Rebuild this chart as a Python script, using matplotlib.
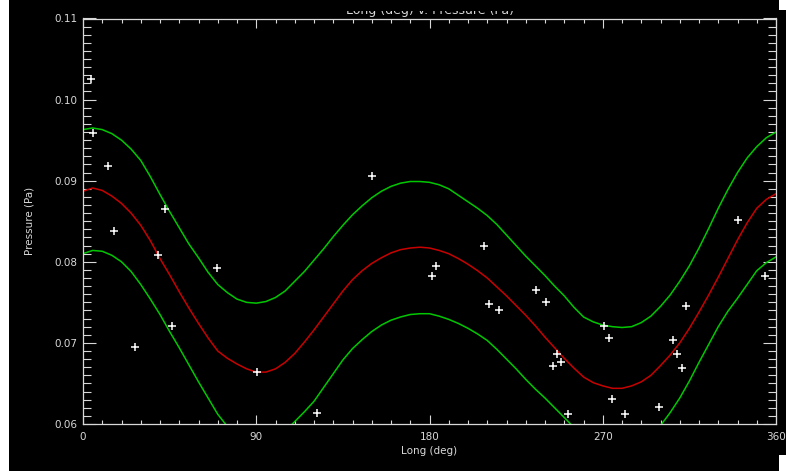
import matplotlib
matplotlib.use("Agg")
import matplotlib.pyplot as plt
from matplotlib.patches import Rectangle
from matplotlib.ticker import MultipleLocator

# ---------------- data ----------------
curve_long = list(range(0, 361, 5))
fit_mid = [0.0887, 0.0891, 0.0888, 0.0881, 0.0872, 0.0860, 0.0845, 0.0826, 0.0804,
           0.0784, 0.0763, 0.0743, 0.0724, 0.0706, 0.0690, 0.0681, 0.0674, 0.0668,
           0.0664, 0.0664, 0.0668, 0.0676, 0.0687, 0.0701, 0.0716, 0.0732, 0.0748,
           0.0764, 0.0778, 0.0789, 0.0798, 0.0805, 0.0811, 0.0815, 0.0817, 0.0818,
           0.0817, 0.0814, 0.0810, 0.0804, 0.0797, 0.0789, 0.0780, 0.0769, 0.0758,
           0.0746, 0.0734, 0.0721, 0.0707, 0.0694, 0.0681, 0.0669, 0.0658, 0.0651,
           0.0647, 0.0644, 0.0644, 0.0647, 0.0652, 0.0660, 0.0672, 0.0685, 0.0700,
           0.0718, 0.0738, 0.0759, 0.0781, 0.0804, 0.0827, 0.0848, 0.0866, 0.0877,
           0.0884]
fit_upper = [0.0963, 0.0965, 0.0963, 0.0958, 0.0950, 0.0939, 0.0925, 0.0905, 0.0883,
             0.0862, 0.0842, 0.0822, 0.0805, 0.0787, 0.0772, 0.0762, 0.0754, 0.0750,
             0.0749, 0.0751, 0.0756, 0.0764, 0.0776, 0.0788, 0.0802, 0.0816, 0.0831,
             0.0845, 0.0858, 0.0869, 0.0879, 0.0887, 0.0893, 0.0897, 0.0899, 0.0899,
             0.0898, 0.0895, 0.0890, 0.0882, 0.0874, 0.0866, 0.0857, 0.0846, 0.0833,
             0.0820, 0.0807, 0.0795, 0.0783, 0.0770, 0.0758, 0.0744, 0.0732, 0.0726,
             0.0722, 0.0720, 0.0719, 0.0720, 0.0725, 0.0733, 0.0745, 0.0759, 0.0776,
             0.0795, 0.0817, 0.0841, 0.0866, 0.0889, 0.0910, 0.0928, 0.0942, 0.0953,
             0.0960]
fit_lower = [0.0810, 0.0814, 0.0813, 0.0808, 0.0800, 0.0788, 0.0772, 0.0754, 0.0735,
             0.0714, 0.0694, 0.0673, 0.0652, 0.0632, 0.0612, 0.0597, 0.0582, 0.0575,
             0.0570, 0.0572, 0.0578, 0.0591, 0.0603, 0.0615, 0.0628, 0.0645, 0.0662,
             0.0679, 0.0693, 0.0704, 0.0714, 0.0722, 0.0728, 0.0732, 0.0735, 0.0736,
             0.0736, 0.0733, 0.0729, 0.0724, 0.0718, 0.0711, 0.0703, 0.0692, 0.0680,
             0.0668, 0.0655, 0.0643, 0.0632, 0.0620, 0.0608, 0.0596, 0.0583, 0.0575,
             0.0570, 0.0568, 0.0568, 0.0570, 0.0578, 0.0587, 0.0598, 0.0614, 0.0632,
             0.0653, 0.0676, 0.0698, 0.0720, 0.0739, 0.0755, 0.0772, 0.0789, 0.0799,
             0.0806]

obs_long = [4.0, 5.4, 13.2, 16.3, 27.0, 39.1, 42.6, 46.4, 69.4, 90.6, 121.4,
            150.0, 183.4, 181.5, 208.3, 210.9, 216.1, 235.3, 240.4, 246.1, 244.2,
            248.1, 252.1, 270.8, 273.1, 274.8, 281.6, 299.2, 306.3, 308.7, 311.3,
            313.2, 340.4, 354.3]
obs_pressure = [0.1025, 0.0959, 0.0918, 0.0838, 0.0695, 0.0808, 0.0865, 0.0721,
                0.0792, 0.0664, 0.0614, 0.0906, 0.0795, 0.0783, 0.0820, 0.0748,
                0.0741, 0.0765, 0.0750, 0.0686, 0.0672, 0.0676, 0.0612, 0.0721,
                0.0706, 0.0631, 0.0612, 0.0621, 0.0704, 0.0686, 0.0669, 0.0746,
                0.0852, 0.0782]

x_ticks = [0, 90, 180, 270, 360]
y_ticks = [0.06, 0.07, 0.08, 0.09, 0.10, 0.11]
y_tick_labels = ["0.06", "0.07", "0.08", "0.09", "0.10", "0.11"]

# ---------------- figure ----------------
W, H = 786, 471
fig = plt.figure(figsize=(W / 100, H / 100), dpi=100, facecolor="black")
ax = fig.add_axes([83 / W, 1 - 424 / H, (776 - 83) / W, (424 - 18.5) / H])
ax.set_facecolor("black")

fg = "#d8d8d8"
ax.plot(curve_long, fit_upper, color="#00c800", lw=1.1)
ax.plot(curve_long, fit_lower, color="#00c800", lw=1.1)
ax.plot(curve_long, fit_mid, color="#c80000", lw=1.1)
ax.plot(obs_long, obs_pressure, linestyle="none", marker="+", color="white",
        markersize=6, markeredgewidth=1.1)

ax.set_xlim(0, 360)
ax.set_ylim(0.06, 0.11)
ax.set_xticks(x_ticks)
ax.set_xticklabels([str(t) for t in x_ticks])
ax.set_yticks(y_ticks)
ax.set_yticklabels(y_tick_labels)
ax.xaxis.set_minor_locator(MultipleLocator(10))
ax.yaxis.set_minor_locator(MultipleLocator(0.001))

for s in ax.spines.values():
    s.set_color(fg)
    s.set_linewidth(0.9)

ax.tick_params(axis="x", which="major", direction="in", length=6.5, width=0.8,
               colors=fg, top=True, labelsize=7.5, pad=6)
ax.tick_params(axis="x", which="minor", direction="in", length=3.2, width=0.8,
               colors=fg, top=True)
ax.tick_params(axis="y", which="major", direction="in", length=9.5, width=0.8,
               colors=fg, right=True, labelsize=7.5, pad=4)
ax.tick_params(axis="y", which="minor", direction="in", length=5.8, width=0.8,
               colors=fg, right=True)

ax.set_xlabel("Long (deg)", color=fg, fontsize=7.5, labelpad=3)
ax.set_ylabel("Pressure (Pa)", color=fg, fontsize=7.5, labelpad=14)

# title (top partly hidden as in reference)
title = fig.text(430 / W, 1 - 14 / H, "Long (deg) v. Pressure (Pa)", color=fg,
                 fontsize=9, ha="center", va="baseline")
title.set_zorder(1)
cover = Rectangle((0, 1 - 10.5 / H), 1, 10.5 / H, transform=fig.transFigure,
                  facecolor="black", edgecolor="none", zorder=20)
fig.add_artist(cover)
# white borders of the screenshot
for rect in [((0, 0), 9 / W, 1),
             ((779 / W, 1 - 10 / H), 7 / W, 10 / H),
             ((779 / W, 0), 7 / W, 16 / H)]:
    fig.add_artist(Rectangle(rect[0], rect[1], rect[2], transform=fig.transFigure,
                             facecolor="white", edgecolor="none", zorder=21))

fig.savefig("out.png", dpi=100, facecolor="black")
